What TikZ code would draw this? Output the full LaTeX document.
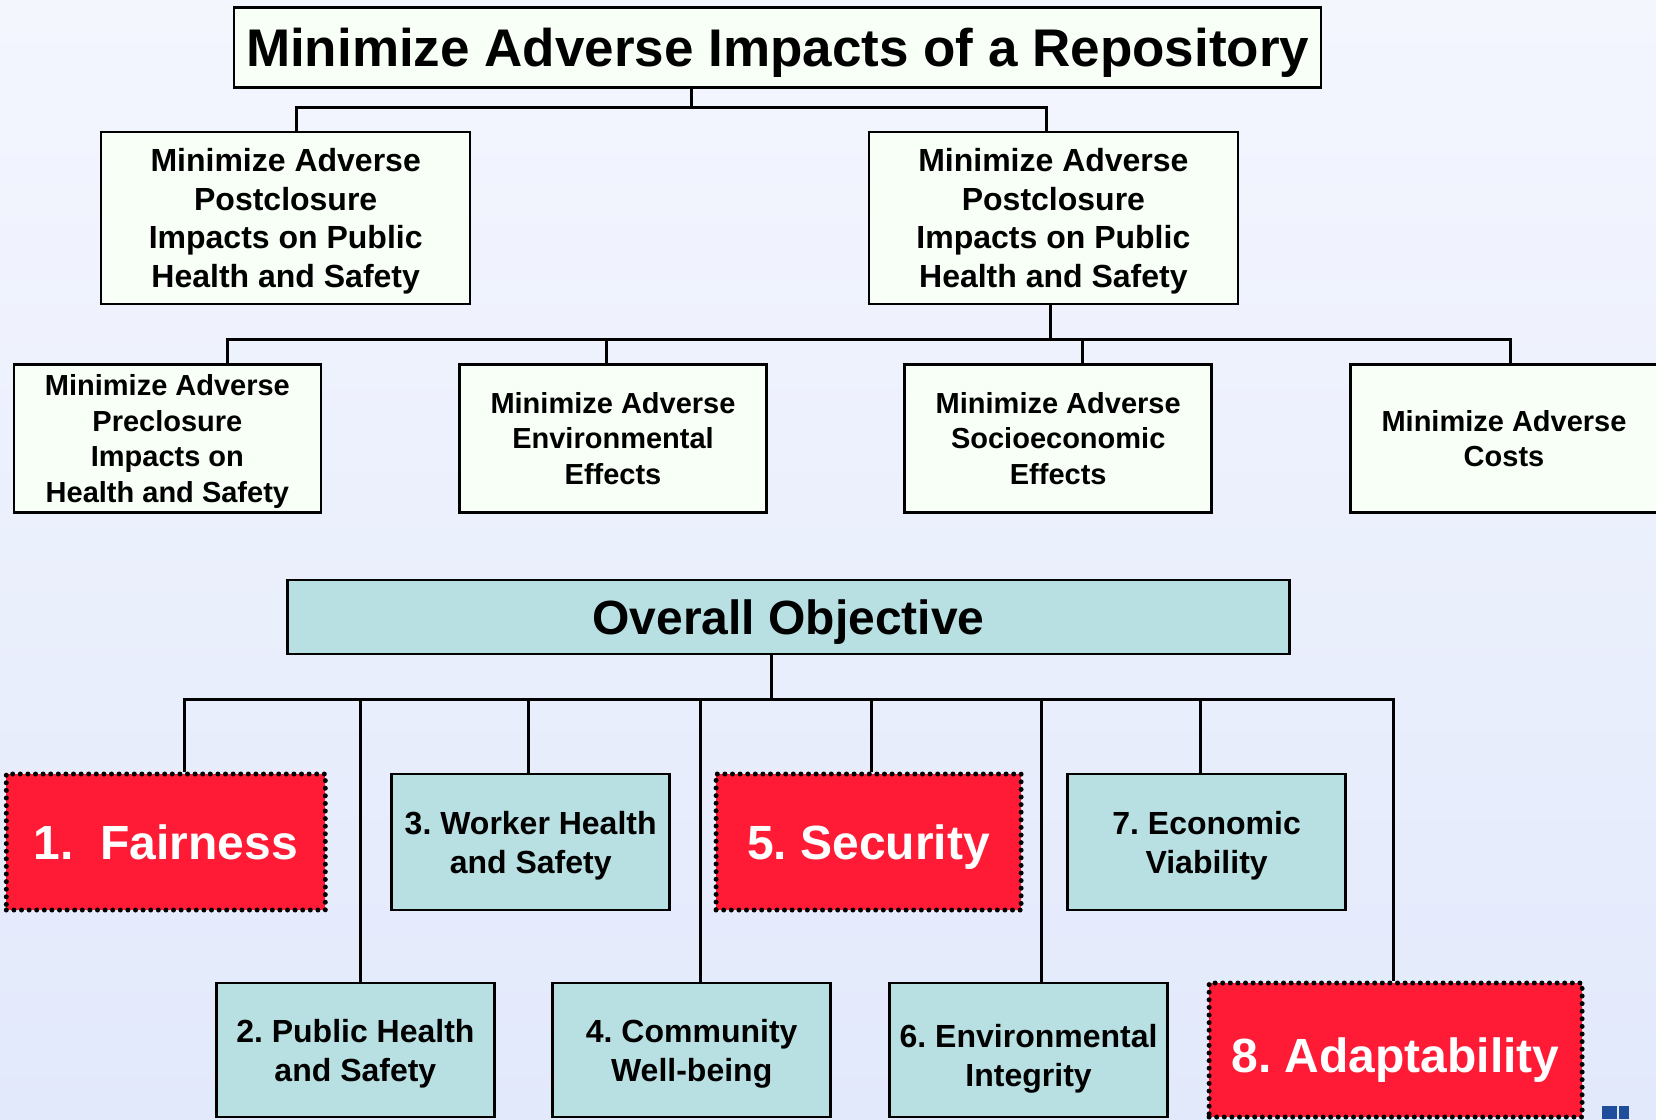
\documentclass[tikz,border=0pt]{standalone}
\usepackage{fontspec}
\setmainfont{Liberation Sans}
\usepackage{tikz}
\usetikzlibrary{positioning}

\definecolor{bgtop}{HTML}{F4F6FE}
\definecolor{bgbot}{HTML}{E2E9FB}
\definecolor{paper}{HTML}{F7FFF6}
\definecolor{objteal}{HTML}{B8E0E3}
\definecolor{alarm}{HTML}{FF1A35}
\definecolor{logoblue}{HTML}{1E4E9C}

\newcommand{\fs}[2]{\fontsize{#1}{#2}\selectfont\bfseries\frenchspacing}

\begin{document}
\begin{tikzpicture}[
    x=1pt, y=-1pt,
    box/.style={draw=black, line width=2.5pt, fill=paper, rectangle, inner sep=0pt, text depth=0pt, align=center},
    goal/.style={box, minimum width=1087, minimum height=80, font=\fs{53}{60}},
    subgoal/.style={box, minimum width=369, minimum height=172, font=\fs{32}{38.4}},
    leaf/.style={box, minimum width=307, minimum height=148, font=\fs{29}{35.6}},
    objective/.style={box, fill=objteal, minimum width=278, minimum height=136, font=\fs{32}{39}},
    keyobj/.style={box, fill=alarm, text=white, line width=5pt, line cap=round,
        dash pattern=on 0pt off 7.6pt, minimum width=305, minimum height=136, font=\fs{48}{54}},
    link/.style={draw=black, line width=3pt}
]
\useasboundingbox (0,0) rectangle (1656,1119);
\shade[top color=bgtop, bottom color=bgbot] (0,0) rectangle (1656,1119);

% upper hierarchy
\node[goal] (top) at (777.7,47.5) {Minimize Adverse Impacts of a Repository};
\node[subgoal] (postL) at (285.7,218) {Minimize Adverse\\Postclosure\\Impacts on Public\\Health and Safety};
\node[subgoal] (postR) at (1053.4,218) {Minimize Adverse\\Postclosure\\Impacts on Public\\Health and Safety};

\node[leaf] (pre) at (167.4,438.3) {Minimize Adverse\\Preclosure\\Impacts on\\Health and Safety};
\node[leaf] (env) at (613,438.3) {Minimize Adverse\\Environmental\\Effects};
\node[leaf] (socio) at (1058.2,438.3) {Minimize Adverse\\Socioeconomic\\Effects};
\node[leaf] (cost) at (1504,438.3) {Minimize Adverse\\Costs};

\coordinate (t0) at (691.7,107.7);
\draw[link] (t0 |- top.south) -- (t0);
\draw[link] ([xshift=11]postL.north) |- (t0) -| ([xshift=-7]postR.north);

\draw[link] ([xshift=-2.6]postR.south) -- ++(0,34) coordinate (h2);
\draw[link] ([xshift=59.6]pre.north) |- (h2) -| ([xshift=6]cost.north);
\draw[link] ([xshift=-6.8]env.north) |- (h2);
\draw[link] ([xshift=24.3]socio.north) |- (h2);

% lower hierarchy
\node[box, fill=objteal, minimum width=1002, minimum height=74, font=\fs{48}{54}] (overall) at (788.4,616.8) {Overall Objective};

\node[keyobj, minimum width=319] (o1) at (165.8,842) {1.\hspace{0.55em}Fairness};
\node[objective] (o3) at (530.7,842) {3. Worker Health\\and Safety};
\node[keyobj] (o5) at (868.6,842) {5. Security};
\node[objective] (o7) at (1206.6,842) {7. Economic\\Viability};

\node[objective, minimum height=134] (o2) at (355.4,1050) {2. Public Health\\and Safety};
\node[objective, minimum height=134] (o4) at (691.7,1050) {4. Community\\Well-being};
\node[objective, minimum height=134, text height=73pt] (o6) at (1028.6,1050) {6. Environmental\\Integrity};
\node[keyobj, minimum width=373, minimum height=134, text height=45pt] (o8) at (1395.6,1050) {8. Adaptability};

\draw[link] ([xshift=-17.4]overall.south) -- ++(0,44.3) coordinate (h3);
\draw[link] ([xshift=19]o1.north) |- (h3) -| ([xshift=-2.6]o8.north);
\draw[link] ([xshift=4.7]o2.north) |- (h3);
\draw[link] ([xshift=-2.7]o3.north) |- (h3);
\draw[link] ([xshift=8.5]o4.north) |- (h3);
\draw[link] ([xshift=2.7]o5.north) |- (h3);
\draw[link] ([xshift=12.7]o6.north) |- (h3);
\draw[link] ([xshift=-5.8]o7.north) |- (h3);

% corner mark
\fill[logoblue] (1601.7,1105.7) rectangle (1616.5,1119);
\fill[logoblue] (1619.3,1105.7) rectangle (1629,1119);
\end{tikzpicture}
\end{document}
